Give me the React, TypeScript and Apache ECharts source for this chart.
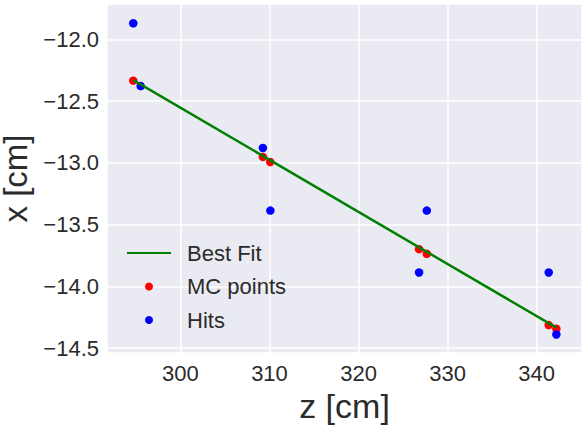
import React, { useEffect, useRef } from "react";
import * as echarts from "echarts";

const mcZ = [294.7, 309.26, 310.08, 326.8, 327.67, 341.36, 342.22];
const mcX = [-12.335, -12.952, -12.993, -13.699, -13.737, -14.314, -14.344];

const hitZ = [294.7, 295.53, 309.26, 310.1, 327.67, 326.8, 341.36, 342.22];
const hitX = [-11.87, -12.378, -12.88, -13.387, -13.387, -13.888, -13.888, -14.39];

const fitZ = [294.7, 342.22];
const fitX = [-12.33, -14.335];

const seriesNames = ["Best Fit", "MC points", "Hits"];

const zRange = [291.75, 345.1];
const xRange = [-14.54, -11.714];

const FONT = "Liberation Sans, Arial, Helvetica, sans-serif";
const TEXT = "#2b2b2b";

export default function App() {
  const ref = useRef<HTMLDivElement>(null);
  useEffect(() => {
    if (!ref.current) return;
    const chart = echarts.init(ref.current, undefined, { renderer: "svg" });
    const pairs = (a: number[], b: number[]) => a.map((v, i) => [v, b[i]]);
    chart.setOption({
      animation: false,
      backgroundColor: "#ffffff",
      textStyle: { fontFamily: FONT },
      grid: {
        left: 107,
        right: 5,
        top: 4,
        bottom: 72,
        backgroundColor: "#EAEAF2",
        show: true,
        borderWidth: 0,
        containLabel: false,
        outerBoundsMode: "none",
      },
      legend: {
        data: [
          { name: seriesNames[0], itemStyle: { opacity: 0, color: "transparent", borderWidth: 0 } },
          { name: seriesNames[1] },
          { name: seriesNames[2] },
        ],
        orient: "vertical",
        left: 126,
        top: 242,
        padding: 0,
        itemWidth: 44,
        itemHeight: 8,
        itemGap: 11.5,
        textStyle: { fontSize: 22, color: TEXT, fontFamily: FONT, padding: [0, 0, 0, 11] },
      },
      xAxis: {
        type: "value",
        min: zRange[0],
        max: zRange[1],
        splitNumber: 5,
        name: "z [cm]",
        nameLocation: "middle",
        nameGap: 29,
        nameTextStyle: { fontSize: 34, color: TEXT, fontFamily: FONT },
        axisLine: { show: false },
        axisTick: { show: false },
        axisLabel: { fontSize: 22, color: TEXT, margin: 9, showMinLabel: false, showMaxLabel: false, fontFamily: FONT },
        splitLine: { show: true, lineStyle: { color: "#ffffff", width: 1.5 } },
      },
      yAxis: {
        type: "value",
        min: xRange[0],
        max: xRange[1],
        splitNumber: 6,
        name: "x [cm]",
        nameLocation: "middle",
        nameGap: 70,
        nameTextStyle: { fontSize: 33, color: TEXT, fontFamily: FONT },
        axisLine: { show: false },
        axisTick: { show: false },
        axisLabel: {
          fontSize: 22,
          color: TEXT,
          margin: 8,
          showMinLabel: false,
          showMaxLabel: false,
          fontFamily: FONT,
          formatter: (v: number) => (v < 0 ? "\u2212" : "") + Math.abs(v).toFixed(1),
        },
        splitLine: { show: true, lineStyle: { color: "#ffffff", width: 1.5 } },
      },
      series: [
        {
          name: "Best Fit",
          type: "line",
          data: pairs(fitZ, fitX),
          symbol: "none",
          z: 4,
          lineStyle: { color: "#008000", width: 2.5 },
          itemStyle: { color: "#008000" },
        },
        {
          name: "MC points",
          type: "scatter",
          data: pairs(mcZ, mcX),
          symbolSize: 8.5,
          z: 2,
          itemStyle: { color: "#ff0000", opacity: 1 },
        },
        {
          name: "Hits",
          type: "scatter",
          data: pairs(hitZ, hitX),
          symbolSize: 8.5,
          z: 3,
          itemStyle: { color: "#0000ff", opacity: 1 },
        },
      ],
    });
    return () => chart.dispose();
  }, []);
  return <div ref={ref} style={{ position: "fixed", left: 0, top: 0, width: 587, height: 425 }} />;
}
